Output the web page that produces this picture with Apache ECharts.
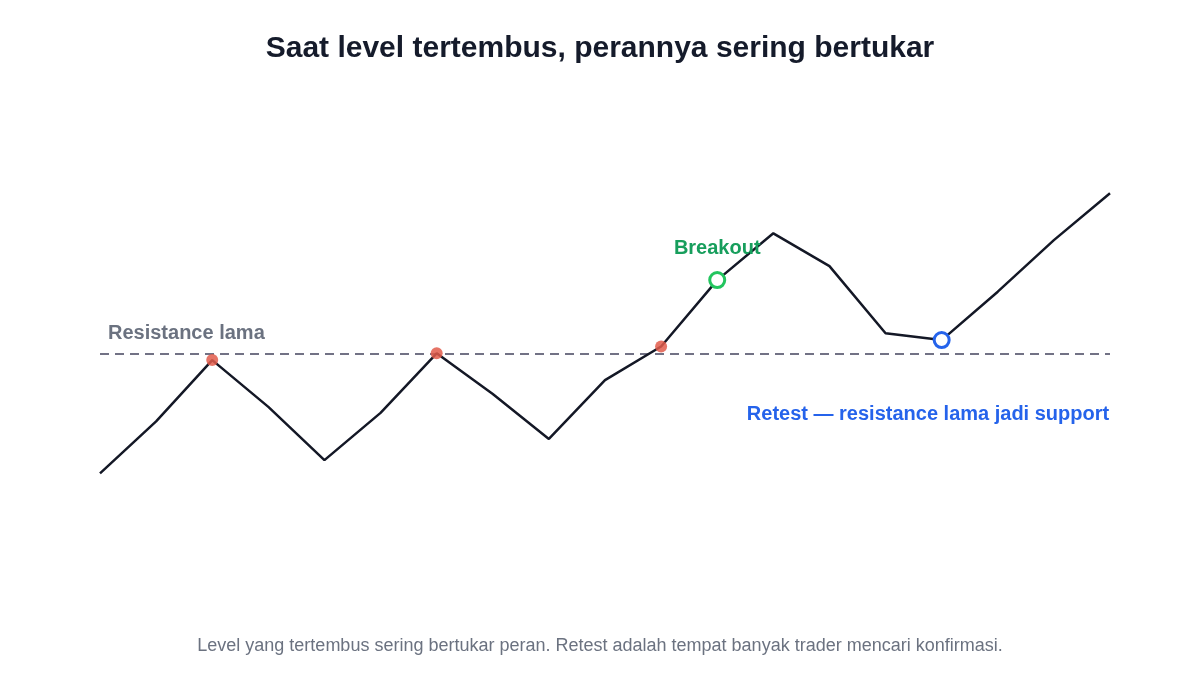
<!DOCTYPE html>
<html>
<head>
<meta charset="utf-8">
<script src="https://cdn.jsdelivr.net/npm/echarts@6/dist/echarts.min.js"></script>
<style>
html,body{margin:0;padding:0;background:#fff;}
#c{width:1200px;height:700px;}
</style>
</head>
<body>
<div id="c"></div>
<script>
const categories = ['1','2','3','4','5','6','7','8','9','10','11','12','13','14','15','16','17','18','19'];
const price = [70, 83, 98.3, 86.6, 73.3, 85.1, 100, 89.8, 78.6, 93.3, 101.7, 118.3, 130, 121.8, 105, 103.3, 115.4, 128.3, 140];
const resistanceLevel = 100;
const touchIdx = [2, 6, 10];
const breakoutIdx = 11;
const retestIdx = 15;
const titleText = 'Saat level tertembus, perannya sering bertukar';
const footText = 'Level yang tertembus sering bertukar peran. Retest adalah tempat banyak trader mencari konfirmasi.';
const resistanceLabel = 'Resistance lama';
const breakoutLabel = 'Breakout';
const retestLabel = 'Retest — resistance lama jadi support';

const FONT = '"Liberation Sans", Arial, Helvetica, sans-serif';
const chart = echarts.init(document.getElementById('c'));
chart.setOption({
  backgroundColor: '#ffffff',
  animation: false,
  textStyle: { fontFamily: FONT },
  title: [
    { text: titleText, left: 'center', top: 29,
      textStyle: { fontSize: 30, fontWeight: 'bold', color: '#151b2b', fontFamily: FONT } },
    { text: footText, left: 'center', top: 632,
      textStyle: { fontSize: 18, fontWeight: 'normal', color: '#6b7280', fontFamily: FONT } }
  ],
  grid: { left: 100, right: 90, top: 153.3, bottom: 146.7 },
  xAxis: { type: 'category', data: categories, boundaryGap: false, show: false },
  yAxis: { type: 'value', min: 50, max: 150, show: false },
  series: [
    {
      type: 'line', data: price, symbol: 'none', z: 3,
      lineStyle: { color: '#141826', width: 2.5 },
      markLine: {
        silent: true, symbol: 'none', z: 2,
        lineStyle: { color: '#727285', width: 2.2, type: [9, 6] },
        label: { show: true, position: 'insideStartTop', formatter: resistanceLabel,
          color: '#6b7280', fontSize: 20, fontWeight: 'bold', fontFamily: FONT, distance: [8, 10] },
        data: [{ yAxis: resistanceLevel }]
      }
    },
    {
      type: 'scatter', z: 4, symbolSize: 12,
      itemStyle: { color: '#e25c4b', opacity: 0.85 },
      data: touchIdx.map(i => [categories[i], price[i]])
    },
    {
      type: 'scatter', z: 5, symbol: 'circle', symbolSize: 15,
      itemStyle: { color: '#ffffff', borderColor: '#22c55e', borderWidth: 3, opacity: 1 },
      label: { show: true, position: 'top', distance: 13, formatter: breakoutLabel,
        color: '#179e5c', fontSize: 20, fontWeight: 'bold', fontFamily: FONT },
      data: [[categories[breakoutIdx], price[breakoutIdx]]]
    },
    {
      type: 'scatter', z: 5, symbol: 'circle', symbolSize: 15,
      itemStyle: { color: '#ffffff', borderColor: '#2563eb', borderWidth: 3, opacity: 1 },
      label: { show: true, position: [176.5, 83.5], align: 'right', verticalAlign: 'middle',
        formatter: retestLabel, color: '#2563eb', fontSize: 20, fontWeight: 'bold', fontFamily: FONT },
      data: [[categories[retestIdx], price[retestIdx]]]
    }
  ]
});
</script>
</body>
</html>
